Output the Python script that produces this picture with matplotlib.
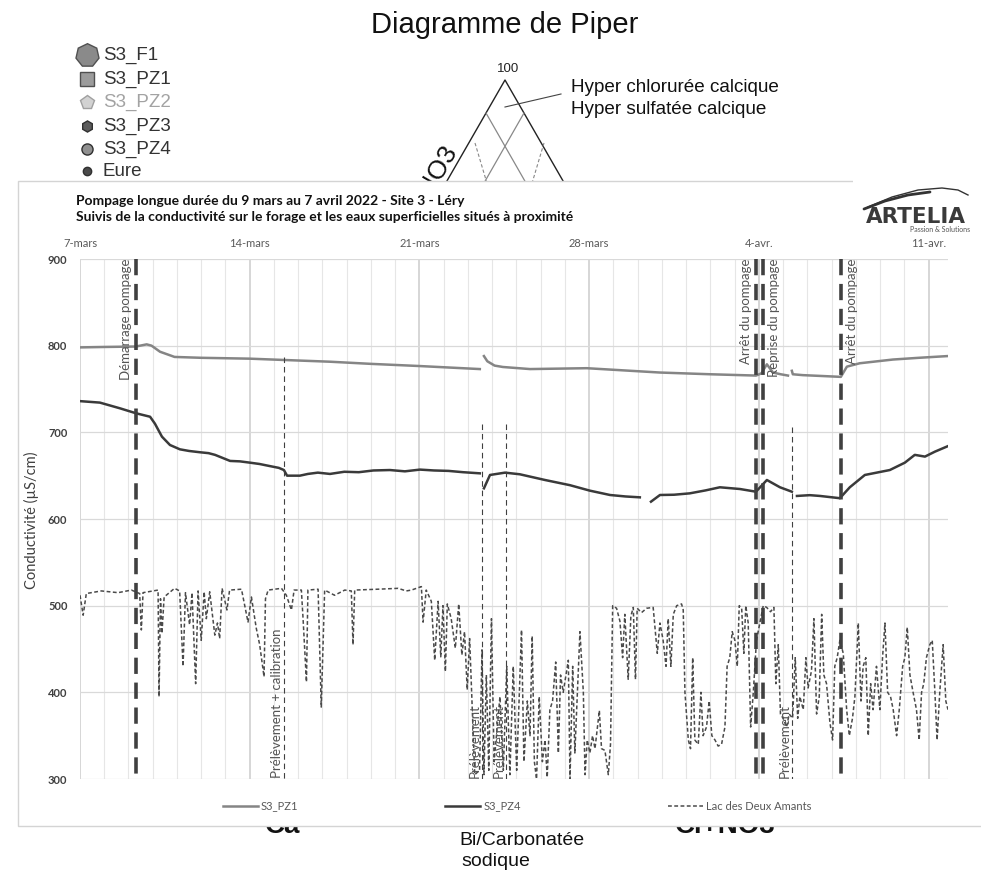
import numpy as np
import matplotlib.pyplot as plt
from matplotlib.patches import Rectangle

W, H = 981, 874
nan = np.nan

# ---- conductivity series (days since 7 March 2022 00:00, uS/cm) ----
pz1_day = [0.0, 1.0, 2.3, 2.75, 2.95, 3.3, 3.9, 5.0, 6.0, 7.0, 8.4, 10.3, 12.0, 14.0, 16.49,
           16.57, 16.66, 16.8, 17.1, 17.44, 18.56, 20.9, 23.92, 26.0, 27.88, 28.1, 28.33,
           28.58, 28.9, 29.2, 29.28, 29.36, 29.4, 29.81, 30.6, 31.38, 31.63, 32.16, 33.53,
           34.6, 35.79]
pz1_val = [798, 798.5, 799, 801.5, 800, 793, 787, 786, 785.5, 785, 783.5, 781.5, 779, 776.5, 773,
           nan, 788, 782, 777, 775.4, 773, 774, 769, 767, 765.5, 768, 778.5,
           769, 767, 765.5, nan, 771, 767, 766, 765, 764, 775.8, 779.7, 784,
           786, 788]

pz4_day = [0.0, 0.82, 1.65, 2.31, 2.89, 3.09, 3.38, 3.71, 4.12, 4.5, 4.95, 5.3, 5.57, 6.19, 6.6,
           7.01, 7.4, 7.84, 8.2, 8.41, 8.54, 9.07, 9.4, 9.81, 10.31, 10.9, 11.5, 12.1, 12.78,
           13.4, 14.02, 14.6, 15.2, 15.8, 16.49, 16.58, 16.66, 16.91,
           17.53, 18.14, 19.18, 20.21, 21.03, 21.86, 22.5, 23.09, 23.3, 23.55, 23.92, 24.5,
           25.15, 25.8, 26.39, 27.22, 27.88, 28.33, 28.87, 29.36, 29.45, 29.57, 30.1, 30.52,
           31.34, 31.75, 32.37, 33.4, 34.02, 34.43, 34.85, 35.26, 35.79]
pz4_val = [736, 734.3, 727.7, 722, 718, 710, 695, 685.4, 680.4, 678.5, 677, 676, 674, 667, 666.5,
           665, 663.5, 661, 659, 656.5, 650, 650, 652, 653.5, 652, 654.5, 654, 656, 656.5,
           655, 657, 656, 655.5, 654, 652.7, nan, 635.4, 650.8,
           653.5, 651.6, 645, 639, 632.7, 627.7, 626, 625, nan, 620, 627.7, 628,
           629.6, 633, 636.6, 634.6, 631.5, 645, 636.6, 631.5, nan, 626.6, 627.5, 626.6,
           624, 636.6, 650.8, 656.5, 665, 674, 672, 677.7, 684]

lake_day = [0.0, 0.13, 0.26, 0.88, 1.57, 2.12, 2.46, 2.53, 2.6, 3.22, 3.26, 3.32, 3.38, 3.47,
            3.9, 4.11, 4.25, 4.35, 4.52, 4.62, 4.77, 4.87, 5.0, 5.12, 5.21, 5.35, 5.56, 5.67,
            5.76, 5.86, 6.06, 6.17, 6.66, 6.93, 7.07, 7.27, 7.41, 7.59, 7.65, 7.76, 8.31, 8.51,
            8.72, 8.83, 9.13, 9.2, 9.34, 9.4, 9.82, 9.95, 10.09, 10.5, 10.92, 11.19, 11.26,
            11.33, 12.29, 13.12, 13.46, 13.67, 14.08, 14.15, 14.28, 14.49, 14.63, 14.77, 14.88,
            14.97, 15.07, 15.15, 15.31, 15.48, 15.62, 15.75, 15.86, 15.97, 16.07, 16.28, 16.48,
            16.58, 16.66, 16.76, 16.86, 16.97, 17.08, 17.32, 17.46, 17.6, 17.73, 17.87, 18.01,
            18.21, 18.31, 18.45, 18.56, 18.65, 18.74, 18.83, 18.94, 19.07, 19.18, 19.27, 19.38,
            19.49, 19.62, 19.73, 19.82, 19.93, 20.14, 20.21, 20.32, 20.41, 20.62, 20.76, 20.83,
            20.92, 21.03, 21.14, 21.24, 21.42, 21.51, 21.65, 21.79, 21.88, 21.97, 22.13, 22.27,
            22.38, 22.47, 22.61, 22.72, 22.82, 22.91, 22.98, 23.16, 23.37, 23.64, 23.81, 23.92,
            24.05, 24.17, 24.26, 24.37, 24.47, 24.61, 24.81, 24.88, 24.95, 25.09, 25.18, 25.27,
            25.36, 25.5, 25.61, 25.7, 25.84, 25.95, 26.06, 26.19, 26.32, 26.46, 26.6, 26.69,
            26.8, 26.9, 27.01, 27.11, 27.19, 27.29, 27.38, 27.46, 27.56, 27.66, 27.77, 27.9,
            28.04, 28.18, 28.32, 28.48, 28.62, 28.7, 28.8, 28.89, 29.0, 29.14, 29.25, 29.39,
            29.5, 29.6, 29.69, 29.83, 29.94, 30.03, 30.17, 30.27, 30.38, 30.49, 30.59, 30.68,
            30.79, 30.93, 31.04, 31.13, 31.23, 31.34, 31.48, 31.62, 31.73, 31.86, 31.96, 32.1,
            32.21, 32.3, 32.41, 32.51, 32.61, 32.71, 32.85, 32.99, 33.1, 33.2, 33.31, 33.43,
            33.54, 33.68, 33.79, 33.93, 34.02, 34.12, 34.23, 34.36, 34.5, 34.61, 34.71, 34.8,
            34.91, 35.05, 35.15, 35.26, 35.35, 35.46, 35.6, 35.71, 35.8]
lake_val = [512, 489, 514, 517, 515, 518, 514, 472, 515, 518, 395, 508, 468, 510,
            520, 517, 430, 515, 478, 515, 410, 517, 460, 516, 485, 516, 466, 480,
            462, 520, 495, 518, 519, 481, 510, 474, 455, 418, 508, 518, 520, 512,
            495, 518, 518, 485, 412, 518, 519, 383, 518, 512, 518, 517, 455,
            518, 519, 520, 517, 518, 522, 481, 518, 505, 437, 505, 441,
            500, 424, 502, 485, 451, 502, 443, 470, 403, 462, 305, 310,
            449, 305, 420, 310, 485, 320, 395, 310, 430, 305, 430, 310,
            472, 320, 390, 350, 465, 320, 300, 395, 320, 345, 302, 380,
            390, 435, 330, 420, 400, 437, 300, 430, 330, 470, 400, 305,
            345, 330, 350, 335, 379, 335, 333, 305, 340, 500, 497, 482,
            440, 490, 415, 488, 498, 415, 497, 492, 497, 498, 445, 480,
            460, 430, 485, 430, 490, 500, 502, 495, 400, 345, 335, 440,
            345, 340, 400, 350, 360, 390, 350, 345, 338, 340, 360, 430,
            440, 470, 460, 430, 500, 497, 445, 500, 480, 360, 400, 460,
            480, 500, 498, 493, 498, 410, 455, 375, 370, 360, 375, 370,
            440, 370, 395, 380, 440, 405, 425, 485, 375, 395, 490, 420,
            410, 365, 345, 430, 440, 460, 445, 380, 350, 370, 395, 480,
            390, 430, 440, 350, 410, 380, 430, 380, 440, 480, 400, 395,
            380, 350, 380, 430, 440, 475, 420, 400, 380, 345, 400, 410,
            440, 455, 460, 400, 345, 400, 455, 390, 380]

week_days = [0, 7, 14, 21, 28, 35]
week_labels = ['7-mars', '14-mars', '21-mars', '28-mars', '4-avr.', '11-avr.']
y_ticks = [300, 400, 500, 600, 700, 800, 900]

# pumping events (thick dashes) and sampling events (thin dashes)
thick_days = [2.31, 27.88, 28.16, 31.38]
thick_labels = ['Démarrage pompage', 'Arrêt du pompage', 'Reprise du pompage', 'Arrêt du pompage']
thick_sides = ['left', 'left', 'right', 'right']
thin_days = [8.41, 16.58, 17.57, 29.36]
thin_tops = [787, 709.6, 709.6, 706]
thin_labels = ['Prélèvement + calibration', 'Prélèvement', 'Prélèvement', 'Prélèvement']

# ---- background Piper diagram pieces (pixel space) ----
piper_labels = ['S3_F1', 'S3_PZ1', 'S3_PZ2', 'S3_PZ3', 'S3_PZ4', 'Eure']
piper_rows = [55, 79, 102, 126, 149, 171]
piper_markers = [(7, 0, 0), 's', 'p', 'h', 'o', 'o']
piper_msize = [17, 10, 10, 8, 8, 6]
piper_face = ['#8a8a8a', '#9c9c9c', '#d2d2d2', '#5c5c5c', '#909090', '#4a4a4a']
piper_edge = ['#505050', '#505050', '#a0a0a0', '#303030', '#303030', '#303030']
piper_tcol = ['#333333', '#333333', '#a3a3a3', '#333333', '#333333', '#333333']

tri_x = [436, 505, 574]
tri_y = [200, 80, 200]
inner1_x, inner1_y = [486, 530], [113, 190]
inner2_x, inner2_y = [524, 480], [113, 190]
dash1_x, dash1_y = [475, 489], [143, 190]
dash2_x, dash2_y = [544, 530], [143, 190]
leader_x, leader_y = [505, 561], [107, 94]
swoosh1_x = [868, 892, 918, 942, 958, 968]
swoosh1_y = [207, 197, 190, 188, 190, 195]
swoosh2_x = [864, 885, 908, 930]
swoosh2_y = [209, 201, 195, 192]

fig = plt.figure(figsize=(W / 100, H / 100), dpi=100)
bg = fig.add_axes([0, 0, 1, 1])
bg.set_xlim(0, W)
bg.set_ylim(H, 0)
bg.axis('off')
bg.set_zorder(0)

pf = 'Liberation Sans'
bg.text(505, 33, 'Diagramme de Piper', fontsize=21, family=pf, ha='center', va='baseline', color='#111111')
for i, lab in enumerate(piper_labels):
    bg.plot([87], [piper_rows[i]], marker=piper_markers[i], ms=piper_msize[i],
            mfc=piper_face[i], mec=piper_edge[i], mew=1, ls='none')
    bg.text(103, piper_rows[i], lab, fontsize=13.5, family=pf, va='center', color=piper_tcol[i])
bg.text(508, 69, '100', fontsize=9.5, family=pf, ha='center', va='center', color='#222222')
bg.plot(tri_x, tri_y, color='#222222', lw=1.0)
bg.plot(inner1_x, inner1_y, color='#888888', lw=0.9)
bg.plot(inner2_x, inner2_y, color='#888888', lw=0.9)
bg.plot(dash1_x, dash1_y, color='#888888', lw=0.8, ls=(0, (3, 2)))
bg.plot(dash2_x, dash2_y, color='#888888', lw=0.8, ls=(0, (3, 2)))
bg.plot(leader_x, leader_y, color='#444444', lw=0.8)
bg.text(571, 88, 'Hyper chlorurée calcique', fontsize=13.6, family=pf, va='center', color='#111111')
bg.text(571, 110, 'Hyper sulfatée calcique', fontsize=13.6, family=pf, va='center', color='#111111')
bg.text(458, 150, 'Cl+NO3', fontsize=19, family=pf, rotation=60, rotation_mode='anchor',
        ha='right', va='baseline', color='#111111')
bg.text(283, 833, 'Ca', fontsize=20, family=pf, weight='bold', ha='center', va='baseline', color='#111111')
bg.text(725, 833, 'Cl+NO3', fontsize=20, family=pf, weight='bold', ha='center', va='baseline', color='#111111')
bg.text(459, 845, 'Bi/Carbonatée', fontsize=14, family=pf, ha='left', va='baseline', color='#111111')
bg.text(461, 866, 'sodique', fontsize=14, family=pf, ha='left', va='baseline', color='#111111')

# white chart panel laid over the Piper picture
bg.add_patch(Rectangle((18, 181), 1000, 645, facecolor='white', edgecolor='#d4d4d4', lw=1, zorder=5))
bg.add_patch(Rectangle((853, 178), 140, 8, facecolor='white', edgecolor='none', zorder=5.5))

cf = 'Lato'
bg.text(76, 201, 'Pompage longue durée du 9 mars au 7 avril 2022 - Site 3 - Léry', fontsize=10,
        family=cf, weight='bold', va='center', color='#111111', zorder=6)
bg.text(76, 217, 'Suivis de la conductivité sur le forage et les eaux superficielles situés à proximité',
        fontsize=10, family=cf, weight='bold', va='center', color='#111111', zorder=6)
bg.plot(swoosh1_x, swoosh1_y, color='#333333', lw=1.0, zorder=6)
bg.plot(swoosh2_x, swoosh2_y, color='#333333', lw=2.0, zorder=6, solid_capstyle='round')
bg.text(916, 217, 'ARTELIA', fontsize=15.5, family='DejaVu Sans', weight='bold', ha='center',
        va='center', color='#3a3a3a', zorder=6)
bg.text(970, 229, 'Passion & Solutions', fontsize=5, family=cf, ha='right', va='center',
        color='#555555', zorder=6)
bg.text(31, 520, 'Conductivité (µS/cm)', fontsize=10.5, family=cf, rotation=90, ha='center',
        va='center', color='#404040', zorder=6)

# ---- chart ----
ax = fig.add_axes([80 / W, (H - 779) / H, 868 / W, 520 / H])
ax.set_zorder(1)
ax.patch.set_alpha(0)
ax.set_xlim(0, 35.8)
ax.set_ylim(300, 900)
for s in ax.spines.values():
    s.set_visible(False)
ax.xaxis.tick_top()
ax.set_xticks(week_days)
ax.set_xticklabels(week_labels)
ax.set_xticks(np.arange(0, 36), minor=True)
ax.set_yticks(y_ticks)
ax.tick_params(axis='x', which='both', length=0, pad=7, labelsize=8, labelcolor='#595959')
ax.tick_params(axis='y', length=0, pad=9, labelsize=8, labelcolor='#404040')
for t in ax.get_xticklabels():
    t.set_family(cf)
for t in ax.get_yticklabels():
    t.set_family(cf)
    t.set_weight('bold')
ax.set_axisbelow(True)
ax.grid(axis='y', color='#d9d9d9', lw=0.9)
ax.grid(axis='x', which='minor', color='#e6e6e6', lw=0.8)
ax.grid(axis='x', which='major', color='#cccccc', lw=1.1)

l1, = ax.plot(pz1_day, pz1_val, color='#858585', lw=1.8, label='S3_PZ1')
l2, = ax.plot(pz4_day, pz4_val, color='#3a3a3a', lw=1.8, label='S3_PZ4')
l3, = ax.plot(lake_day, lake_val, color='#4a4a4a', lw=1.1, ls=(0, (2.5, 1.6)), label='Lac des Deux Amants')

for d in thick_days:
    ax.plot([d, d], [900, 297], color='#404040', lw=2.6, ls=(0, (4.5, 2.4)), clip_on=False)
for d, top in zip(thin_days, thin_tops):
    ax.plot([d, d], [top, 300], color='#404040', lw=0.8, ls=(0, (5, 3.5)))

for d, lab, side in zip(thick_days, thick_labels, thick_sides):
    off = -3 if side == 'left' else 4
    ax.annotate(lab, xy=(d, 901), xytext=(off, 0), textcoords='offset points', rotation=90,
                ha='right' if side == 'left' else 'left', va='top', fontsize=9.5, family=cf,
                color='#555555', annotation_clip=False)
for d, lab in zip(thin_days, thin_labels):
    ax.annotate(lab, xy=(d, 301), xytext=(-1, 0), textcoords='offset points', rotation=90,
                ha='right', va='bottom', fontsize=9.5, family=cf, color='#555555')

leg = ax.legend(handles=[l1, l2, l3], loc='center', bbox_to_anchor=(517 / W, 1 - 806 / H),
                bbox_transform=fig.transFigure, ncol=3, frameon=False, fontsize=8,
                handlelength=3.15, columnspacing=13.2, handletextpad=0.3)
for t in leg.get_texts():
    t.set_family(cf)
    t.set_color('#595959')

fig.savefig('out.png', dpi=100)
